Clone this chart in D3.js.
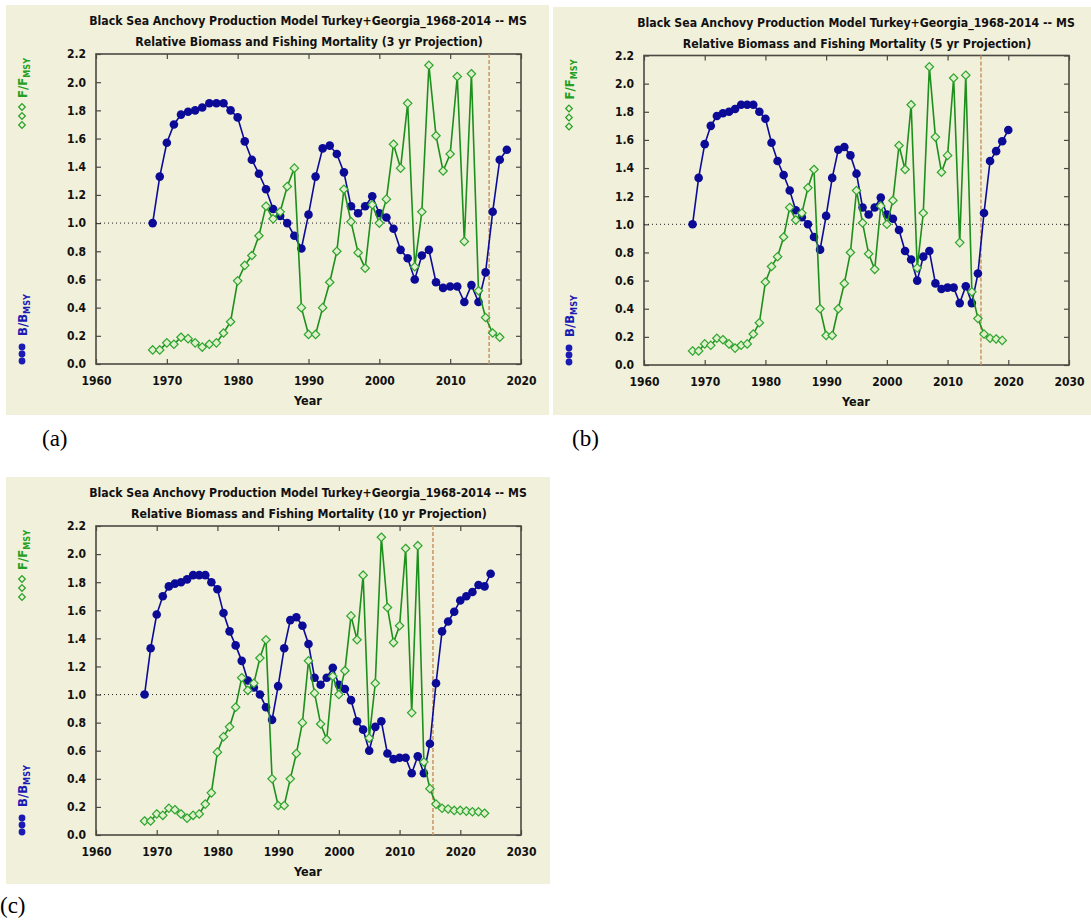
<!DOCTYPE html>
<html>
<head>
<meta charset="utf-8">
<script src="https://cdnjs.cloudflare.com/ajax/libs/d3/7.8.5/d3.min.js"></script>
<style>
  body { margin: 0; background: #ffffff; }
  svg text { font-family: "DejaVu Sans Condensed", "DejaVu Sans", sans-serif; font-weight: bold; }
</style>
</head>
<body>
<div id="chart"></div>
<script>
// years of the assessment + projection
var years = [1968, 1969, 1970, 1971, 1972, 1973, 1974, 1975, 1976, 1977,
             1978, 1979, 1980, 1981, 1982, 1983, 1984, 1985, 1986, 1987,
             1988, 1989, 1990, 1991, 1992, 1993, 1994, 1995, 1996, 1997,
             1998, 1999, 2000, 2001, 2002, 2003, 2004, 2005, 2006, 2007,
             2008, 2009, 2010, 2011, 2012, 2013, 2014, 2015, 2016, 2017,
             2018, 2019, 2020, 2021, 2022, 2023, 2024, 2025];

// B/Bmsy (one value per year, up to 2025)
var bRatio = [1.00, 1.33, 1.57, 1.70, 1.77, 1.79, 1.80, 1.82, 1.85, 1.85,
              1.85, 1.80, 1.75, 1.58, 1.45, 1.35, 1.24, 1.10, 1.05, 1.00,
              0.91, 0.82, 1.06, 1.33, 1.53, 1.55, 1.49, 1.36, 1.12, 1.07,
              1.12, 1.19, 1.07, 1.04, 0.96, 0.81, 0.75, 0.60, 0.77, 0.81,
              0.58, 0.54, 0.55, 0.55, 0.44, 0.56, 0.44, 0.65, 1.08, 1.45,
              1.52, 1.59, 1.67, 1.70, 1.73, 1.78, 1.77, 1.86];

// F/Fmsy (one value per year, up to 2024)
var fRatio = [0.10, 0.10, 0.15, 0.14, 0.19, 0.18, 0.15, 0.12, 0.14, 0.15,
              0.22, 0.30, 0.59, 0.70, 0.77, 0.91, 1.12, 1.03, 1.08, 1.26,
              1.39, 0.40, 0.21, 0.21, 0.40, 0.58, 0.80, 1.24, 1.01, 0.79,
              0.68, 1.13, 1.00, 1.17, 1.56, 1.39, 1.85, 0.69, 1.08, 2.12,
              1.62, 1.37, 1.49, 2.04, 0.87, 2.06, 0.52, 0.33, 0.22, 0.19,
              0.185, 0.175, 0.175, 0.17, 0.165, 0.165, 0.155];

var projYears = [3, 5, 10];
var panelTags = ["(a)", "(b)", "(c)"];
var xTickYears = [1960, 1970, 1980, 1990, 2000, 2010, 2020, 2030];
var yTicks = [0.0, 0.2, 0.4, 0.6, 0.8, 1.0, 1.2, 1.4, 1.6, 1.8, 2.0, 2.2];
var titleLine1 = "Black Sea Anchovy Production Model Turkey+Georgia_1968-2014 -- MS";
var lastDataYear = 2014;
var refYear = 2015.5;

// panel layout: background box, plot box (x0, y0, x1, y1), x extent, tag position
var panels = [
  {bg: [6, 5, 543, 410],   plot: [96, 54, 521, 364],    xMax: 2020, tag: [42, 446], t2w: 348},
  {bg: [553, 7, 538, 408], plot: [644, 55.5, 1069, 365], xMax: 2030, tag: [572, 446], t2w: 349},
  {bg: [6, 477, 544, 407], plot: [96, 526, 521, 835],   xMax: 2030, tag: [0, 913], t2w: 356}
];

var bgColor = "#f1f0da";
var blue = "#0b0b98";
var green = "#1d8f1d";
var diamondStroke = "#2ea42e";
var frameColor = "#4a4a44";

var svg = d3.select("#chart")
    .append("svg")
    .attr("width", 1091)
    .attr("height", 924);

svg.append("rect")
    .attr("width", 1091)
    .attr("height", 924)
    .attr("fill", "#ffffff");

function diamondPath(s) {
  return "M0," + (-s) + "L" + s + ",0L0," + s + "L" + (-s) + ",0Z";
}

// centred title line squeezed horizontally to a given width
function squeezedText(parent, cx, cy, width, str) {
  var holder = parent.append("g");
  var t = holder.append("text")
      .attr("text-anchor", "middle")
      .style("font-size", "13px")
      .attr("fill", "#111")
      .text(str);
  var natural = t.node().getComputedTextLength();
  var sx = Math.min(1, width / natural);
  holder.attr("transform", "translate(" + cx + "," + cy + ") scale(" + sx + ",1)");
}

panels.forEach(function(p, i) {
  var g = svg.append("g");
  var px0 = p.plot[0], py0 = p.plot[1], px1 = p.plot[2], py1 = p.plot[3];

  g.append("rect")
      .attr("x", p.bg[0]).attr("y", p.bg[1])
      .attr("width", p.bg[2]).attr("height", p.bg[3])
      .attr("fill", bgColor);

  var x = d3.scaleLinear().domain([1960, p.xMax]).range([px0, px1]);
  var y = d3.scaleLinear().domain([0, 2.2]).range([py1, py0]);
  var ticksX = xTickYears.filter(function(v) { return v <= p.xMax; });

  // axes: ticks point inward on all four sides
  var bottom = g.append("g")
      .attr("transform", "translate(0," + py1 + ")")
      .call(d3.axisBottom(x).tickValues(ticksX).tickFormat(d3.format("d"))
            .tickSizeInner(-5).tickSizeOuter(0).tickPadding(12));
  var left = g.append("g")
      .attr("transform", "translate(" + px0 + ",0)")
      .call(d3.axisLeft(y).tickValues(yTicks).tickFormat(d3.format(".1f"))
            .tickSizeInner(-5).tickSizeOuter(0).tickPadding(10));
  var top = g.append("g")
      .attr("transform", "translate(0," + py0 + ")")
      .call(d3.axisTop(x).tickValues(ticksX).tickFormat("")
            .tickSizeInner(-5).tickSizeOuter(0));
  var right = g.append("g")
      .attr("transform", "translate(" + px1 + ",0)")
      .call(d3.axisRight(y).tickValues(yTicks).tickFormat("")
            .tickSizeInner(-5).tickSizeOuter(0));

  [bottom, left, top, right].forEach(function(a) {
    a.select(".domain").remove();
    a.selectAll("line").attr("stroke", frameColor).attr("stroke-width", 1.2);
    a.selectAll("text").attr("fill", "#111").style("font-size", "12px");
  });

  g.append("rect")
      .attr("x", px0).attr("y", py0)
      .attr("width", px1 - px0).attr("height", py1 - py0)
      .attr("fill", "none")
      .attr("stroke", frameColor)
      .attr("stroke-width", 1.6);

  // reference lines
  g.append("line")
      .attr("x1", px0).attr("x2", px1)
      .attr("y1", y(1)).attr("y2", y(1))
      .attr("stroke", "#222")
      .attr("stroke-width", 1)
      .attr("stroke-dasharray", "1,3");

  g.append("line")
      .attr("x1", x(refYear)).attr("x2", x(refYear))
      .attr("y1", py0).attr("y2", py1)
      .attr("stroke", "#c99564")
      .attr("stroke-width", 1.5)
      .attr("stroke-dasharray", "4,2");

  // series for this panel
  var lastF = lastDataYear + projYears[i];
  var lastB = lastF + 1;
  var bData = years.map(function(yr, k) { return {year: yr, v: bRatio[k]}; })
      .filter(function(d) { return d.year <= lastB; });
  var fData = years.slice(0, fRatio.length).map(function(yr, k) { return {year: yr, v: fRatio[k]}; })
      .filter(function(d) { return d.year <= lastF; });

  var line = d3.line()
      .x(function(d) { return x(d.year); })
      .y(function(d) { return y(d.v); });

  g.append("path")
      .datum(bData)
      .attr("d", line)
      .attr("fill", "none")
      .attr("stroke", blue)
      .attr("stroke-width", 1.6);

  g.selectAll(".bdot")
      .data(bData)
      .enter()
      .append("circle")
      .attr("class", "bdot")
      .attr("cx", function(d) { return x(d.year); })
      .attr("cy", function(d) { return y(d.v); })
      .attr("r", 4.3)
      .attr("fill", blue);

  g.append("path")
      .datum(fData)
      .attr("d", line)
      .attr("fill", "none")
      .attr("stroke", green)
      .attr("stroke-width", 1.6);

  g.selectAll(".fdot")
      .data(fData)
      .enter()
      .append("path")
      .attr("class", "fdot")
      .attr("transform", function(d) { return "translate(" + x(d.year) + "," + y(d.v) + ")"; })
      .attr("d", diamondPath(4.2))
      .attr("fill", "#e0f0cc")
      .attr("stroke", diamondStroke)
      .attr("stroke-width", 1.2);

  // titles
  var cx = (px0 + px1) / 2 - 0.5;
  squeezedText(g, cx, py0 - 29, 438, titleLine1);
  squeezedText(g, cx + 1, py0 - 8, p.t2w,
      "Relative Biomass and Fishing Mortality (" + projYears[i] + " yr Projection)");

  g.append("text")
      .attr("x", cx).attr("y", py1 + 41)
      .attr("text-anchor", "middle")
      .style("font-size", "12.5px")
      .attr("fill", "#111")
      .text("Year");

  // rotated legend on the left edge
  var lx = p.bg[0] + 16;
  var fLab = g.append("text")
      .attr("transform", "translate(" + (lx + 4.5) + "," + (py0 + 44) + ") rotate(-90)")
      .attr("fill", "#22a022")
      .style("font-size", "13px");
  fLab.append("tspan").text("F/F");
  fLab.append("tspan").attr("dy", 3).style("font-size", "9px").text("MSY");

  [53, 62, 71].forEach(function(off) {
    g.append("path")
        .attr("transform", "translate(" + lx + "," + (py0 + off) + ")")
        .attr("d", diamondPath(3.3))
        .attr("fill", "none")
        .attr("stroke", "#22a022")
        .attr("stroke-width", 1.2);
  });

  var bLab = g.append("text")
      .attr("transform", "translate(" + (lx + 4.5) + "," + (py1 - 28) + ") rotate(-90)")
      .attr("fill", "#1a1ab4")
      .style("font-size", "13px");
  bLab.append("tspan").text("B/B");
  bLab.append("tspan").attr("dy", 3).style("font-size", "9px").text("MSY");

  [17, 10, 3].forEach(function(off) {
    g.append("circle")
        .attr("cx", lx).attr("cy", py1 - off)
        .attr("r", 3.4)
        .attr("fill", "#1a1ab4");
  });

  // panel tag below the figure
  svg.append("text")
      .attr("x", p.tag[0]).attr("y", p.tag[1])
      .style("font-family", "'Liberation Serif', 'Times New Roman', serif")
      .style("font-weight", "normal")
      .style("font-size", "23px")
      .attr("fill", "#000")
      .text(panelTags[i]);
});
</script>
</body>
</html>
